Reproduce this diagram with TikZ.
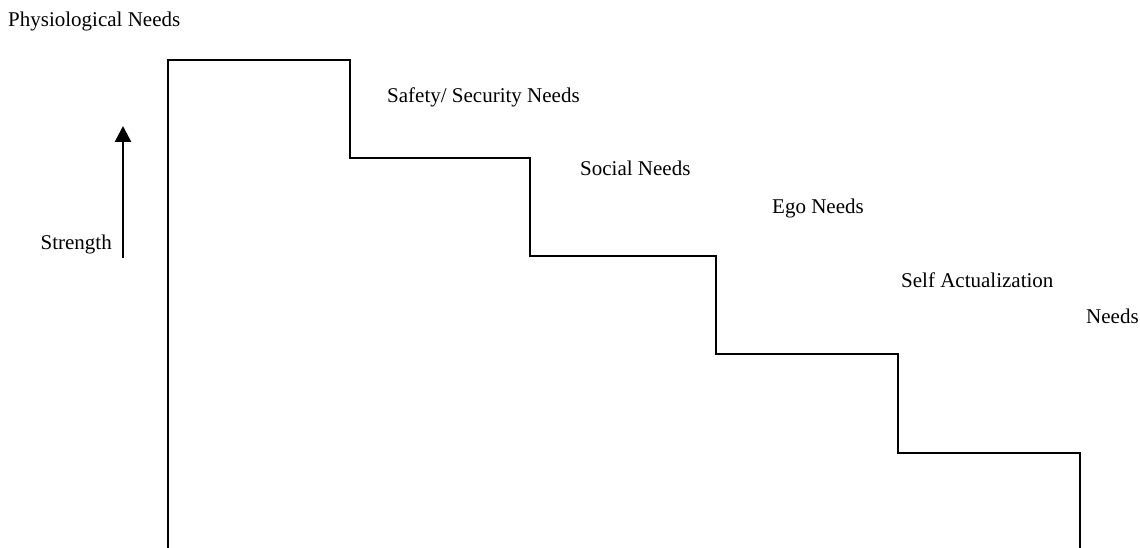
\documentclass[tikz,border=0pt]{standalone}
\usepackage{fontspec}
\setmainfont{Liberation Serif}
\usetikzlibrary{arrows.meta}
\begin{document}
\begin{tikzpicture}[x=1pt,y=-1pt,
  lbl/.style={inner sep=0pt,font=\fontsize{21}{25}\selectfont},
  stair/.style={line width=2pt,line join=miter},
  strengtharrow/.style={line width=2.5pt,-{Triangle[length=16pt,width=16pt]}}]
\useasboundingbox (0,0) rectangle (1140,548);
% staircase
\draw[stair] (168,548) -- (168,60) -- (350,60) -- (350,158) -- (530,158)
  -- (530,256) -- (716,256) -- (716,354) -- (898,354) -- (898,453)
  -- (1080,453) -- (1080,548);
% labels
\node[lbl,anchor=base west] (phys) at (8,27) {Physiological Needs};
\node[lbl,anchor=base west] (safe) at (387,103) {Safety/ Security Needs};
\node[lbl,anchor=base west] (soc) at (580,176) {Social Needs};
\node[lbl,anchor=base west] (ego) at (772,214) {Ego Needs};
\node[lbl,anchor=base west] (self) at (901,287) {Self Actualization};
\node[lbl,anchor=base west] (needs) at (1086,323) {Needs};
\node[lbl,anchor=base east] (str) at (112,249) {Strength};
% arrow
\coordinate (abot) at (123,258);
\coordinate (atop) at (123,126);
\draw[strengtharrow] (abot) -- (atop);
\end{tikzpicture}
\end{document}
